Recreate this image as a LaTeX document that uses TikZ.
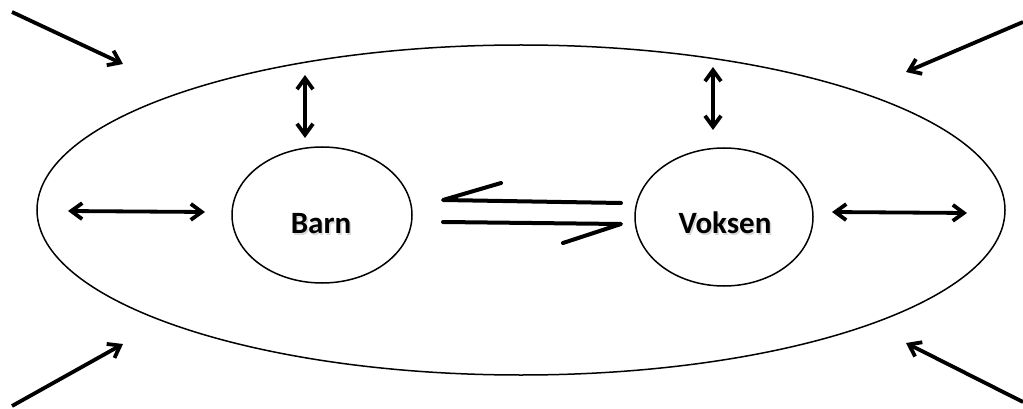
\documentclass[tikz,border=0pt]{standalone}
\usepackage{fontspec}
\setmainfont{Carlito}
\usetikzlibrary{shapes.geometric,arrows.meta}
\tikzset{
  oval/.style={draw=black, line width=1.5pt, ellipse, inner sep=0pt},
  lbl/.style={font=\bfseries\fontsize{31}{36}\selectfont, inner sep=0pt},
  tip/.tip={Straight Barb[length=11pt,width=16pt,line width=3.8pt]},
  arr/.style={line width=3.8pt, -tip},
  darr/.style={line width=3.8pt, tip-tip},
  harp/.style={line width=4pt, line cap=round, line join=round}
}
\begin{document}
\begin{tikzpicture}[x=1pt,y=-1pt]
\useasboundingbox (0,0) rectangle (1023,409);
\node[oval, minimum width=968pt, minimum height=330pt] (world) at (521,210) {};
\node[oval, minimum width=180pt, minimum height=136pt] (barn) at (322,215) {};
\node[oval, minimum width=178pt, minimum height=138pt] (voksen) at (724,217) {};
\node[lbl, text=black!25, opacity=0.6] (barnS) at (322.5,226) {Barn};
\node[lbl, text=black!25, opacity=0.6] (voksenS) at (726.5,225) {Voksen};
\node[lbl] (barnT) at (321,224) {Barn};
\node[lbl] (voksenT) at (725,223) {Voksen};
% outer arrows
\coordinate (tlA) at (12,12);   \coordinate (tlB) at (123,64);
\coordinate (trA) at (1023,22); \coordinate (trB) at (906,72);
\coordinate (blA) at (12,406);  \coordinate (blB) at (123,344);
\coordinate (brA) at (1023,402);\coordinate (brB) at (906,343);
\draw[arr] (tlA) -- (tlB);
\draw[arr] (trA) -- (trB);
\draw[arr] (blA) -- (blB);
\draw[arr] (brA) -- (brB);
% double arrows
\coordinate (vlA) at (305,75);  \coordinate (vlB) at (305,138);
\coordinate (vrA) at (713,67);  \coordinate (vrB) at (713,130);
\coordinate (hlA) at (68,211);  \coordinate (hlB) at (205,212);
\coordinate (hrA) at (832,212); \coordinate (hrB) at (967,213);
\draw[darr] (vlA) -- (vlB);
\draw[darr] (vrA) -- (vrB);
\draw[darr] (hlA) -- (hlB);
\draw[darr] (hrA) -- (hrB);
% harpoons
\coordinate (h1A) at (621,203); \coordinate (h1B) at (443,200); \coordinate (h1C) at (501,183);
\coordinate (h2A) at (443,222); \coordinate (h2B) at (621,224); \coordinate (h2C) at (563,243);
\draw[harp] (h1A) -- (h1B) -- (h1C);
\draw[harp] (h2A) -- (h2B) -- (h2C);
\end{tikzpicture}
\end{document}
